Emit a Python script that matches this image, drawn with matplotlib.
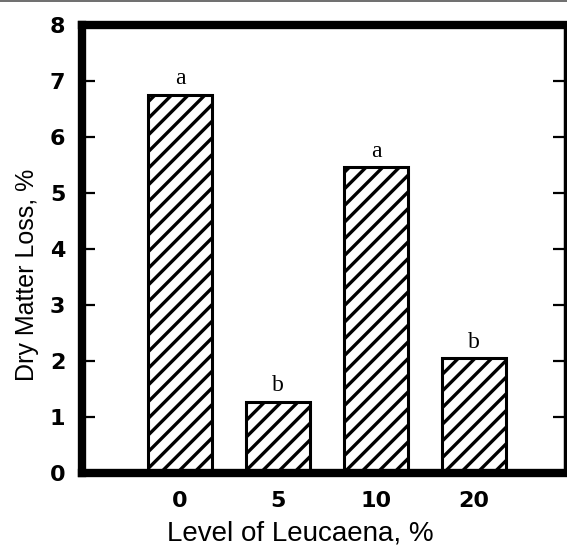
import numpy as np
import matplotlib
matplotlib.use("Agg")
import matplotlib.pyplot as plt
from matplotlib.lines import Line2D

# Data
levels = ["0", "5", "10", "20"]
dm_loss = [6.75, 1.27, 5.46, 2.05]
letters = ["a", "b", "a", "b"]
y_ticks = [0, 1, 2, 3, 4, 5, 6, 7, 8]

plt.rcParams["hatch.linewidth"] = 2.4

fig = plt.figure(figsize=(5.67, 5.49), dpi=100)
ax = fig.add_axes([82 / 567, 76 / 549, (565 - 82) / 567, (473 - 25) / 549])

x = np.arange(len(levels))
ax.bar(x, dm_loss, width=0.66, color="white", edgecolor="black",
       linewidth=2.2, hatch="//", zorder=2)

# significance letters
for xi, h, lab in zip(x, dm_loss, letters):
    ax.annotate(lab, xy=(xi, h), xytext=(0, 4), textcoords="offset points",
                ha="center", va="bottom", fontsize=17,
                family="Liberation Serif", color="black")

ax.set_xlim(-1.0, 3.93)
ax.set_ylim(0, 8)
ax.set_xticks(x)
ax.set_xticklabels(levels, fontsize=16, fontweight="bold",
                   family="DejaVu Sans")
ax.set_yticks(y_ticks)
ax.set_yticklabels([str(t) for t in y_ticks], fontsize=16, fontweight="bold",
                   family="DejaVu Sans")
ax.tick_params(axis="x", length=0, pad=13)
ax.tick_params(axis="y", direction="in", length=9, width=1.6, pad=12,
               right=True, left=True)

for side, lw in [("left", 6), ("bottom", 6), ("top", 6), ("right", 2.5)]:
    ax.spines[side].set_linewidth(lw)
    ax.spines[side].set_color("black")

ax.set_xlabel("Level of Leucaena, %", fontsize=20, family="Liberation Sans")
ax.xaxis.set_label_coords(0.451, -0.106)
ax.set_ylabel("Dry Matter Loss, %", fontsize=18, family="Liberation Sans")
ax.yaxis.set_label_coords(-0.09, 0.442)

# thin scan border line at the very top
fig.add_artist(Line2D([0, 1], [0.998, 0.998], transform=fig.transFigure,
                      color="#555555", lw=1.2))

fig.savefig("out.png", dpi=100)
